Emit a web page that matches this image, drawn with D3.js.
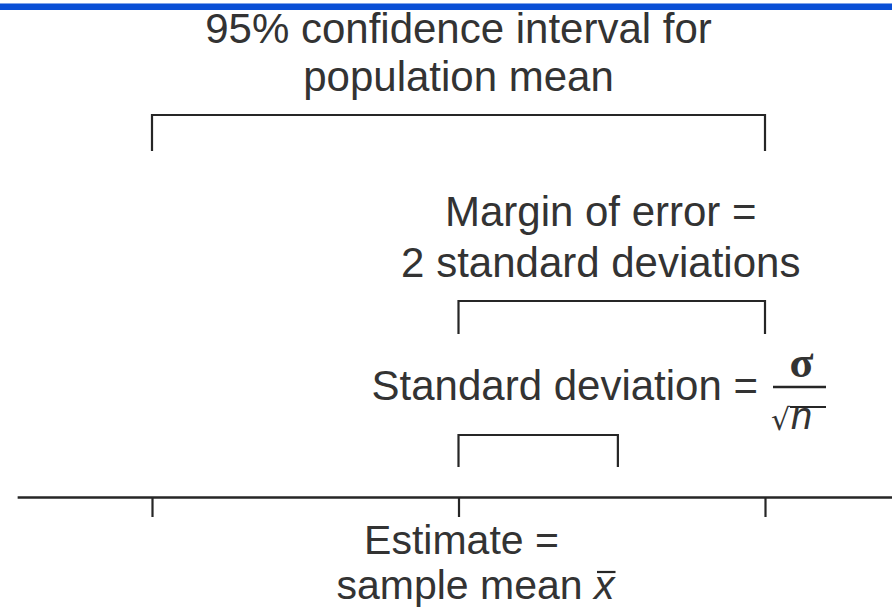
<!DOCTYPE html>
<html>
<head>
<meta charset="utf-8">
<script src="https://cdn.jsdelivr.net/npm/d3@7"></script>
<style>
  html, body { margin: 0; padding: 0; background: #fff; }
  svg { display: block; font-family: "Liberation Sans", Arial, Helvetica, sans-serif; }
</style>
</head>
<body>
<div id="chart"></div>
<script>
// values are in standard-deviation units around the sample mean
const levels = ['ci', 'moe', 'sd'];
const bracketFrom = [-2, 0, 0];
const bracketTo = [2, 2, 1.04];
const labelLines = [
  ['95% confidence interval for', 'population mean'],
  ['Margin of error =', '2 standard deviations'],
  ['Standard deviation =']
];
const tickValues = [-2, 0, 2];
const axisExtent = [-2.88, 2.9];
const estimateLines = ['Estimate =', 'sample mean '];

let width = 892;
let height = 610;
let ink = '#262626';
let textInk = '#333';

let svg = d3.select('#chart')
  .append('svg')
  .attr('width', width)
  .attr('height', height);

// blue rule along the top
svg.append('rect').attr('x', 0).attr('y', 3).attr('width', width).attr('height', 7).attr('fill', '#0a4fd6');
svg.append('rect').attr('x', 0).attr('y', 3).attr('width', width).attr('height', 1).attr('fill', '#7fa3ea');

let x = d3.scaleLinear()
  .domain([-2, 2])
  .range([152, 765]);

// where each bracket's top bar sits
let yLevel = d3.scaleOrdinal()
  .domain(levels)
  .range([115, 301, 435]);
let drop = d3.scaleOrdinal()
  .domain(levels)
  .range([36, 33, 32]);

let brackets = levels.map((id, i) => ({ id, from: bracketFrom[i], to: bracketTo[i], lines: labelLines[i] }));

svg.selectAll('.bracket')
  .data(brackets)
  .enter()
  .append('path')
  .attr('class', 'bracket')
  .attr('fill', 'none')
  .attr('stroke', ink)
  .attr('stroke-width', 2.2)
  .attr('d', d => {
    let y0 = yLevel(d.id);
    return `M${x(d.from)},${y0 + drop(d.id)}V${y0}H${x(d.to)}V${y0 + drop(d.id)}`;
  });

// number line with ticks
let axisScale = x.copy()
  .domain(axisExtent)
  .range(axisExtent.map(v => x(v)));
let axis = d3.axisBottom(axisScale)
  .tickValues(tickValues)
  .tickSize(20)
  .tickSizeOuter(0)
  .tickFormat('');

let axisG = svg.append('g')
  .attr('transform', 'translate(0, 497)')
  .call(axis);
axisG.select('.domain').attr('stroke', ink).attr('stroke-width', 2.4);
axisG.selectAll('.tick line').attr('stroke', ink).attr('stroke-width', 2.2);

let fontSize = 42;
let lineGap = 48;

// labels above brackets
let labelX = { ci: x(0), moe: x(1) - 11 };
let labelBase = { ci: 43, moe: 226 };

brackets.filter(d => d.id !== 'sd').forEach(d => {
  svg.append('text')
    .attr('text-anchor', 'middle')
    .attr('fill', textInk)
    .style('font-size', fontSize + 'px')
    .selectAll('tspan')
    .data(d.lines)
    .enter()
    .append('tspan')
    .attr('x', labelX[d.id])
    .attr('y', (t, j) => labelBase[d.id] + j * (d.id === 'moe' ? 51 : lineGap))
    .text(t => t);
});

// standard deviation = sigma / sqrt(n)
svg.append('text')
  .attr('text-anchor', 'end')
  .attr('x', x(2) - 7)
  .attr('y', 400)
  .attr('fill', textInk)
  .style('font-size', fontSize + 'px')
  .text(labelLines[2][0]);

let fracX = x(2) + 8;
let fracW = 53;
svg.append('text')
  .attr('text-anchor', 'middle')
  .attr('x', fracX + fracW / 2 + 2)
  .attr('y', 377)
  .attr('fill', textInk)
  .style('font-family', '"Liberation Serif", "DejaVu Serif", serif')
  .style('font-weight', 'bold')
  .style('font-size', '44px')
  .text('σ');
svg.append('line')
  .attr('x1', fracX).attr('x2', fracX + fracW)
  .attr('y1', 387).attr('y2', 387)
  .attr('stroke', ink).attr('stroke-width', 2.4);
svg.append('text')
  .attr('x', fracX - 2)
  .attr('y', 430)
  .attr('fill', textInk)
  .style('font-family', '"DejaVu Sans", sans-serif')
  .style('font-size', '30px')
  .text('√');
svg.append('line')
  .attr('x1', fracX + 17).attr('x2', fracX + fracW)
  .attr('y1', 407).attr('y2', 407)
  .attr('stroke', ink).attr('stroke-width', 2);
svg.append('text')
  .attr('x', fracX + 18)
  .attr('y', 429)
  .attr('fill', textInk)
  .style('font-style', 'italic')
  .style('font-size', '38px')
  .text('n');

// estimate label under the centre tick
let est = svg.append('text')
  .attr('text-anchor', 'middle')
  .attr('fill', textInk)
  .style('font-size', '41px');
est.append('tspan').attr('x', x(0) + 3).attr('y', 554).text(estimateLines[0]);
est.append('tspan').attr('x', x(0) + 17).attr('y', 599).text(estimateLines[1]);
est.append('tspan').style('font-style', 'italic').text('x');

let n = est.node().getNumberOfChars();
let box = est.node().getExtentOfChar(n - 1);
svg.append('line')
  .attr('x1', box.x + 3).attr('x2', box.x + box.width + 1)
  .attr('y1', 572).attr('y2', 572)
  .attr('stroke', ink).attr('stroke-width', 2.2);
</script>
</body>
</html>
